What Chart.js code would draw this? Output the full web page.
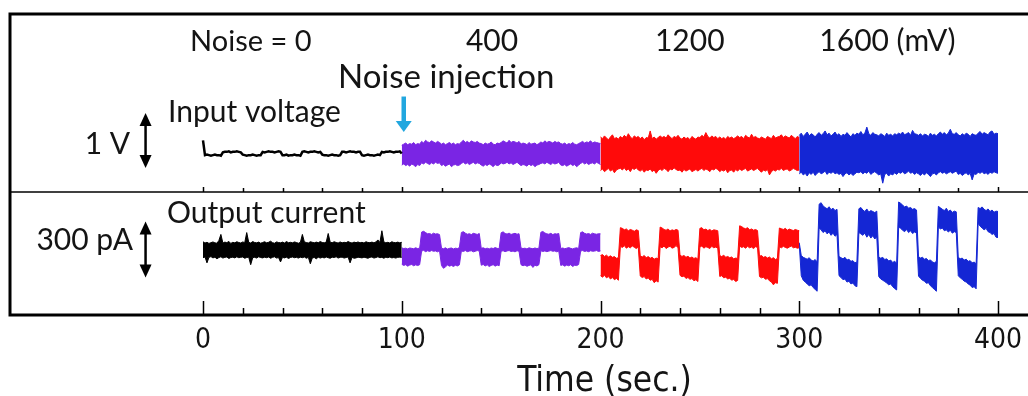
<!DOCTYPE html>
<html><head><meta charset="utf-8">
<script src="https://cdn.jsdelivr.net/npm/chart.js@4.4.1/dist/chart.umd.min.js"></script>
<style>
html,body{margin:0;padding:0;background:#fff;overflow:hidden;}
#wrap{position:relative;width:1028px;height:396px;overflow:hidden;background:#fff;}
#wrap canvas{position:absolute;left:0;top:0;}
</style></head><body>
<div id="wrap"><canvas id="c" width="1040" height="396"></canvas></div>
<script>
// ---------------- DATA ----------------
const xTickValues = [0, 100, 200, 300, 400];
const xMinorTickValues = [20, 40, 60, 80, 120, 140, 160, 180, 220, 240, 260, 280, 320, 340, 360, 380];
const segmentStartSec = [0, 100, 200, 300];
const noiseLabels = ['Noise = 0', '400', '1200', '1600 (mV)'];
const xAxisTitle = 'Time (sec.)';

// Input voltage (V, relative to baseline), 1-s samples
const inputBlack = [0.24,
 -0.03,-0.02,-0.03,-0.04,-0.03,-0.02,-0.03,-0.03,-0.04,
 0.02,0.03,0.03,0.04,0.02,0.03,0.03,0.04,0.03,0.02,
 -0.02,-0.03,-0.04,-0.03,-0.03,-0.02,-0.03,-0.04,-0.03,-0.03,
 0.03,0.02,0.03,0.04,0.03,0.03,0.02,0.03,0.04,0.03,
 -0.03,-0.03,-0.02,-0.04,-0.03,-0.03,-0.02,-0.03,-0.03,-0.04,
 0.03,0.04,0.03,0.02,0.03,0.03,0.04,0.03,0.02,0.03,
 -0.02,-0.03,-0.03,-0.04,-0.03,-0.02,-0.03,-0.03,-0.04,-0.03,
 0.03,0.03,0.02,0.03,0.04,0.03,0.03,0.02,0.03,0.03,
 -0.03,-0.04,-0.03,-0.02,-0.03,-0.03,-0.04,-0.03,-0.02,-0.03,
 0.03,0.02,0.03,0.03,0.04,0.03,0.02,0.03,0.03,0.04,
 0.00];
const inputPurpleUpper = [
 0.15,0.17,0.19,0.16,0.18,0.17,0.20,0.16,0.18,0.17,
 0.22,0.19,0.24,0.21,0.20,0.23,0.21,0.19,0.22,0.20,
 0.17,0.19,0.16,0.18,0.20,0.17,0.19,0.16,0.18,0.17,
 0.21,0.24,0.20,0.22,0.19,0.23,0.21,0.20,0.22,0.19,
 0.18,0.16,0.19,0.17,0.18,0.21,0.17,0.16,0.19,0.18,
 0.20,0.23,0.21,0.19,0.24,0.20,0.22,0.21,0.19,0.22,
 0.17,0.19,0.18,0.16,0.20,0.17,0.18,0.19,0.16,0.18,
 0.21,0.19,0.23,0.20,0.22,0.21,0.19,0.22,0.20,0.21,
 0.18,0.17,0.19,0.16,0.18,0.17,0.20,0.17,0.16,0.18,
 0.20,0.22,0.19,0.21,0.20,0.23,0.19,0.21,0.20,0.19,
 0.18];
const inputPurpleLower = [
 -0.21,-0.19,-0.22,-0.20,-0.23,-0.19,-0.21,-0.24,-0.20,-0.22,
 -0.17,-0.19,-0.16,-0.18,-0.20,-0.17,-0.19,-0.16,-0.18,-0.17,
 -0.22,-0.20,-0.23,-0.21,-0.19,-0.24,-0.21,-0.20,-0.22,-0.21,
 -0.18,-0.16,-0.19,-0.17,-0.20,-0.18,-0.16,-0.19,-0.17,-0.18,
 -0.21,-0.23,-0.20,-0.22,-0.19,-0.21,-0.24,-0.20,-0.22,-0.21,
 -0.17,-0.19,-0.18,-0.16,-0.19,-0.17,-0.20,-0.18,-0.16,-0.19,
 -0.22,-0.20,-0.21,-0.23,-0.19,-0.22,-0.20,-0.24,-0.21,-0.20,
 -0.18,-0.17,-0.19,-0.16,-0.18,-0.20,-0.17,-0.19,-0.18,-0.16,
 -0.21,-0.22,-0.20,-0.23,-0.21,-0.19,-0.22,-0.20,-0.24,-0.21,
 -0.18,-0.16,-0.19,-0.17,-0.20,-0.18,-0.17,-0.19,-0.16,-0.18,
 -0.20];
const inputRedUpper = [
 0.30,0.27,0.32,0.28,0.25,0.30,0.34,0.27,0.29,0.26,
 0.31,0.28,0.33,0.29,0.36,0.30,0.27,0.32,0.29,0.31,
 0.27,0.30,0.25,0.29,0.28,0.41,0.27,0.30,0.26,0.29,
 0.32,0.29,0.31,0.28,0.34,0.30,0.27,0.31,0.29,0.33,
 0.28,0.26,0.30,0.27,0.29,0.25,0.31,0.28,0.26,0.30,
 0.29,0.33,0.30,0.38,0.31,0.28,0.32,0.29,0.31,0.27,
 0.30,0.27,0.29,0.26,0.31,0.28,0.30,0.27,0.29,0.32,
 0.29,0.31,0.27,0.33,0.30,0.28,0.35,0.29,0.31,0.28,
 0.27,0.30,0.28,0.26,0.31,0.29,0.27,0.33,0.28,0.30,
 0.31,0.34,0.29,0.32,0.30,0.28,0.33,0.30,0.27,0.31,
 0.29];
const inputRedLower = [
 -0.31,-0.28,-0.33,-0.30,-0.27,-0.32,-0.29,-0.35,-0.30,-0.28,
 -0.27,-0.30,-0.26,-0.31,-0.28,-0.33,-0.27,-0.29,-0.26,-0.30,
 -0.32,-0.29,-0.34,-0.30,-0.31,-0.28,-0.33,-0.30,-0.36,-0.31,
 -0.28,-0.31,-0.27,-0.29,-0.33,-0.28,-0.30,-0.26,-0.29,-0.31,
 -0.30,-0.34,-0.29,-0.32,-0.30,-0.28,-0.33,-0.31,-0.29,-0.32,
 -0.29,-0.27,-0.31,-0.28,-0.30,-0.33,-0.28,-0.30,-0.27,-0.29,
 -0.33,-0.30,-0.32,-0.29,-0.35,-0.31,-0.30,-0.34,-0.29,-0.32,
 -0.28,-0.31,-0.29,-0.27,-0.32,-0.30,-0.28,-0.31,-0.29,-0.27,
 -0.31,-0.34,-0.30,-0.32,-0.29,-0.39,-0.33,-0.30,-0.32,-0.29,
 -0.30,-0.27,-0.31,-0.29,-0.28,-0.32,-0.30,-0.27,-0.29,-0.31,
 -0.30];
const inputBlueUpper = [
 0.33,0.37,0.31,0.35,0.39,0.32,0.36,0.34,0.30,0.35,
 0.38,0.33,0.36,0.41,0.34,0.37,0.32,0.35,0.39,0.33,
 0.36,0.31,0.35,0.33,0.38,0.34,0.30,0.36,0.33,0.37,
 0.35,0.40,0.34,0.37,0.48,0.36,0.33,0.38,0.35,0.34,
 0.32,0.36,0.34,0.31,0.37,0.33,0.35,0.32,0.36,0.34,
 0.37,0.35,0.39,0.34,0.36,0.38,0.33,0.42,0.36,0.35,
 0.33,0.36,0.32,0.35,0.34,0.31,0.37,0.33,0.35,0.32,
 0.36,0.39,0.35,0.38,0.34,0.37,0.44,0.36,0.35,0.38,
 0.34,0.32,0.36,0.33,0.37,0.35,0.31,0.36,0.34,0.33,
 0.37,0.40,0.35,0.38,0.36,0.34,0.39,0.41,0.35,0.37,
 0.36];
const inputBlueLower = [
 -0.37,-0.34,-0.39,-0.36,-0.41,-0.35,-0.38,-0.34,-0.40,-0.36,
 -0.33,-0.37,-0.35,-0.32,-0.38,-0.34,-0.36,-0.33,-0.37,-0.35,
 -0.38,-0.36,-0.42,-0.37,-0.35,-0.39,-0.36,-0.40,-0.37,-0.34,
 -0.35,-0.33,-0.37,-0.34,-0.36,-0.32,-0.38,-0.35,-0.33,-0.36,
 -0.39,-0.37,-0.54,-0.38,-0.36,-0.41,-0.37,-0.39,-0.35,-0.38,
 -0.34,-0.36,-0.33,-0.37,-0.35,-0.32,-0.36,-0.34,-0.38,-0.35,
 -0.37,-0.40,-0.36,-0.39,-0.35,-0.38,-0.42,-0.37,-0.36,-0.39,
 -0.35,-0.33,-0.36,-0.34,-0.37,-0.35,-0.33,-0.36,-0.34,-0.32,
 -0.38,-0.36,-0.40,-0.37,-0.35,-0.39,-0.36,-0.48,-0.37,-0.38,
 -0.34,-0.36,-0.33,-0.37,-0.35,-0.38,-0.34,-0.36,-0.33,-0.35,
 -0.36];

// Output current (pA, relative to baseline), 1-s samples
const outputBlackUpper = [
 45,38,42,36,40,44,39,37,52,85,
 38,43,40,47,36,42,39,45,41,38,
 44,40,95,42,38,46,41,39,43,37,
 41,45,39,42,48,40,37,44,41,39,
 43,38,46,40,42,39,44,41,37,42,
 85,44,41,38,45,42,39,43,40,46,
 41,39,43,90,42,40,45,41,38,44,
 39,42,40,46,41,38,43,40,44,39,
 42,38,45,41,40,43,39,44,55,41,
 105,44,39,42,38,45,41,40,43,39,
 42];
const outputBlackLower = [
 -42,-38,-70,-40,-36,-43,-39,-48,-41,-37,
 -44,-40,-38,-46,-41,-39,-43,-37,-42,-40,
 -38,-45,-41,-39,-80,-42,-40,-44,-37,-41,
 -43,-39,-42,-38,-45,-40,-37,-44,-41,-65,
 -40,-43,-39,-46,-41,-38,-42,-40,-44,-39,
 -42,-38,-45,-40,-75,-43,-41,-48,-39,-44,
 -40,-43,-38,-42,-45,-39,-41,-37,-44,-40,
 -39,-44,-41,-38,-70,-40,-45,-43,-39,-41,
 -43,-39,-42,-45,-40,-38,-44,-41,-37,-42,
 -40,-45,-39,-42,-38,-43,-41,-44,-40,-39,
 -40];
const outputPurpleUpper = [
 12,8,10,6,11,9,7,12,8,10,
 98,102,95,88,90,85,92,87,89,84,
 10,7,12,5,9,11,6,10,8,13,
 96,100,92,86,89,84,91,88,85,90,
 9,12,7,10,6,11,8,13,9,7,
 94,99,90,87,92,85,88,91,86,89,
 11,8,10,6,12,9,7,11,8,10,
 97,101,93,88,86,91,84,89,87,90,
 8,11,7,10,13,9,6,10,12,8,
 95,99,91,87,90,85,92,88,86,89,
 88];
const outputPurpleLower = [
 -78,-84,-80,-88,-82,-79,-86,-81,-85,-80,
 -6,-2,-9,-4,-8,-3,-7,-5,-10,-4,
 -85,-100,-92,-82,-88,-84,-90,-83,-87,-81,
 -5,-8,-3,-9,-6,-4,-10,-7,-3,-6,
 -83,-79,-87,-81,-90,-84,-80,-88,-82,-86,
 -7,-4,-9,-5,-3,-8,-6,-10,-4,-7,
 -80,-86,-82,-89,-84,-81,-95,-83,-87,-80,
 -4,-8,-5,-9,-6,-3,-7,-5,-10,-6,
 -84,-81,-88,-82,-86,-80,-90,-83,-85,-79,
 -6,-3,-8,-5,-9,-4,-7,-6,-3,-8,
 -5];
const outputRedUpper = [
 -30,-25,-35,-28,-38,-32,-40,-36,-45,-42,
 122,118,110,115,105,112,108,102,110,106,
 -32,-38,-30,-42,-36,-45,-40,-50,-44,-48,
 125,120,112,108,115,104,110,106,112,108,
 -28,-35,-30,-40,-34,-44,-38,-46,-42,-50,
 118,122,110,114,106,112,104,110,108,105,
 -30,-36,-28,-40,-35,-42,-38,-48,-44,-46,
 132,128,120,116,122,110,115,108,112,106,
 -34,-30,-40,-36,-44,-38,-48,-42,-52,-46,
 120,116,112,118,108,114,110,106,112,108,
 105];
const outputRedLower = [
 -140,-148,-138,-152,-145,-158,-150,-162,-155,-165,
 20,14,24,10,18,12,22,15,8,16,
 -142,-150,-145,-158,-152,-165,-160,-178,-168,-175,
 18,12,22,8,16,20,10,14,24,12,
 -138,-146,-142,-155,-150,-160,-156,-168,-162,-172,
 16,22,10,18,14,8,20,12,16,10,
 -144,-140,-152,-148,-158,-154,-165,-160,-172,-166,
 22,14,18,10,20,12,16,8,18,14,
 -145,-152,-148,-160,-156,-168,-175,-190,-178,-182,
 18,12,20,14,10,16,22,12,15,10,
 12];
const outputBlueUpper = [
 40,-30,-40,-45,-50,-42,-55,-60,-52,-65,
 250,258,240,232,225,236,220,228,215,222,
 -35,-42,-48,-40,-55,-50,-62,-58,-70,-65,
 225,232,218,210,224,206,215,210,204,212,
 -38,-45,-40,-52,-48,-60,-55,-68,-62,-72,
 262,255,245,235,240,228,232,222,226,218,
 -36,-44,-40,-50,-46,-58,-54,-65,-70,-62,
 238,230,222,215,228,210,218,205,212,208,
 -40,-48,-44,-55,-50,-62,-58,-70,-66,-75,
 232,226,235,222,215,224,210,218,206,212,
 210];
const outputBlueLower = [
 30,-140,-165,-175,-185,-195,-190,-205,-215,-225,
 120,110,95,105,88,98,80,92,75,85,
 -140,-150,-162,-158,-175,-170,-185,-180,-195,-200,
 95,88,80,92,70,85,65,78,60,72,
 -145,-158,-165,-172,-180,-190,-185,-200,-210,-218,
 125,118,108,100,112,95,105,90,98,92,
 -142,-155,-165,-170,-182,-178,-195,-205,-215,-225,
 125,115,120,105,110,98,108,92,100,95,
 -140,-152,-160,-170,-175,-185,-192,-205,-200,-212,
 145,130,120,110,118,100,95,85,90,70,
 68];

// ---------------- STYLE / LAYOUT ----------------
const colors = {black: '#000000', purple: '#7a25e4', red: '#ff0a0a', blue: '#1426d4', arrow: '#22a7df', text: '#141414'};
const labelFont = 'Lato, "Open Sans", sans-serif';
const axisFont = '"Liberation Sans Narrow", "DejaVu Sans Condensed", "Liberation Sans", sans-serif';
const xRange = {min: -97.107, max: 418.61};
const voltRange = {min: -2.9364, max: 2.5364};
const currentRange = {min: -354.5, max: 1287.3};
const dividerVolts = -0.7;
const axisTitle = {t: 202, offsetBelowAxis: 76, size: 35};

const annotations = [
  {text: noiseLabels[0], t: -6.5, y: 1.864, axis: 'yV', size: 29, align: 'left'},
  {text: noiseLabels[1], t: 132.3, y: 1.864, axis: 'yV', size: 30, align: 'left'},
  {text: noiseLabels[2], t: 227.4, y: 1.864, axis: 'yV', size: 30, align: 'left'},
  {text: noiseLabels[3], t: 310.1, y: 1.864, axis: 'yV', size: 30, align: 'left'},
  {text: 'Noise injection', t: 67.9, y: 1.191, axis: 'yV', size: 33, align: 'left'},
  {text: 'Input voltage', t: -17.6, y: 0.573, axis: 'yV', size: 30, align: 'left'},
  {text: '1 V', t: -36.7, y: -0.009, axis: 'yV', size: 30, align: 'right'},
  {text: 'Output current', t: -18.1, y: 147.3, axis: 'yI', size: 30, align: 'left'},
  {text: '300 pA', t: -35.2, y: 0, axis: 'yI', size: 30, align: 'right'}
];
const scaleArrows = [
  {t: -28.9, from: 0.736, to: -0.264, axis: 'yV'},
  {t: -28.9, from: 155, to: -150, axis: 'yI'}
];
const injectionArrow = {t: 101.0, from: 1.036, to: 0.391, axis: 'yV'};

// ---------------- BUILD ----------------
function pts(arr, start) { return arr.map((v, i) => ({x: start + i, y: v})); }
function band(upper, lower, start, color, axis) {
  return [
    {data: pts(upper, start), yAxisID: axis, borderColor: color, borderWidth: 1, fill: false, pointRadius: 0},
    {data: pts(lower, start), yAxisID: axis, borderColor: color, borderWidth: 1, backgroundColor: color, fill: '-1', pointRadius: 0}
  ];
}
const datasets = [
  {data: pts(inputBlack, segmentStartSec[0]), yAxisID: 'yV', borderColor: colors.black, borderWidth: 2.5, fill: false, pointRadius: 0},
  ...band(inputPurpleUpper, inputPurpleLower, segmentStartSec[1], colors.purple, 'yV'),
  ...band(inputRedUpper, inputRedLower, segmentStartSec[2], colors.red, 'yV'),
  ...band(inputBlueUpper, inputBlueLower, segmentStartSec[3], colors.blue, 'yV'),
  ...band(outputBlackUpper, outputBlackLower, segmentStartSec[0], colors.black, 'yI'),
  ...band(outputPurpleUpper, outputPurpleLower, segmentStartSec[1], colors.purple, 'yI'),
  ...band(outputRedUpper, outputRedLower, segmentStartSec[2], colors.red, 'yI'),
  ...band(outputBlueUpper, outputBlueLower, segmentStartSec[3], colors.blue, 'yI')
];

function line(ctx, x1, y1, x2, y2) { ctx.beginPath(); ctx.moveTo(x1, y1); ctx.lineTo(x2, y2); ctx.stroke(); }

const decorPlugin = {
  id: 'decor',
  afterDraw(chart) {
    const {ctx, chartArea: a, scales} = chart;
    const x = scales.x;
    ctx.save();
    ctx.strokeStyle = '#000';
    ctx.lineCap = 'butt';
    // frame
    ctx.lineWidth = 3;
    ctx.strokeRect(a.left, a.top, a.right - a.left, a.bottom - a.top);
    // panel divider
    const yDiv = scales.yV.getPixelForValue(dividerVolts);
    ctx.lineWidth = 1.5;
    line(ctx, a.left, yDiv, a.right, yDiv);
    // inward ticks
    ctx.lineWidth = 1.5;
    xTickValues.forEach(v => {
      const px = Math.round(x.getPixelForValue(v)) + 0.5;
      line(ctx, px, a.bottom, px, a.bottom - 14);
      line(ctx, px, yDiv, px, yDiv - 5);
    });
    xMinorTickValues.forEach(v => {
      const px = Math.round(x.getPixelForValue(v)) + 0.5;
      line(ctx, px, a.bottom, px, a.bottom - 7);
      line(ctx, px, yDiv, px, yDiv - 4);
    });
    // scale arrows (double headed)
    ctx.fillStyle = '#000';
    scaleArrows.forEach(ar => {
      const px = x.getPixelForValue(ar.t);
      const y1 = scales[ar.axis].getPixelForValue(ar.from);
      const y2 = scales[ar.axis].getPixelForValue(ar.to);
      const hl = 13, hw = 6;
      ctx.lineWidth = 2.5;
      line(ctx, px, y1 + hl - 1, px, y2 - hl + 1);
      ctx.beginPath(); ctx.moveTo(px, y1); ctx.lineTo(px - hw, y1 + hl); ctx.lineTo(px + hw, y1 + hl); ctx.closePath(); ctx.fill();
      ctx.beginPath(); ctx.moveTo(px, y2); ctx.lineTo(px - hw, y2 - hl); ctx.lineTo(px + hw, y2 - hl); ctx.closePath(); ctx.fill();
    });
    // injection arrow
    {
      const px = x.getPixelForValue(injectionArrow.t);
      const y1 = scales[injectionArrow.axis].getPixelForValue(injectionArrow.from);
      const y2 = scales[injectionArrow.axis].getPixelForValue(injectionArrow.to);
      const hl = 11, hw = 8;
      ctx.strokeStyle = colors.arrow; ctx.fillStyle = colors.arrow;
      ctx.lineWidth = 4.5;
      line(ctx, px, y1, px, y2 - hl + 1);
      ctx.beginPath(); ctx.moveTo(px, y2); ctx.lineTo(px - hw, y2 - hl); ctx.lineTo(px + hw, y2 - hl); ctx.closePath(); ctx.fill();
    }
    // text annotations
    ctx.fillStyle = colors.text;
    ctx.textBaseline = 'alphabetic';
    annotations.forEach(an => {
      ctx.font = an.size + 'px ' + labelFont;
      ctx.textAlign = an.align;
      ctx.fillText(an.text, x.getPixelForValue(an.t), scales[an.axis].getPixelForValue(an.y));
    });
    // x axis title (offset to the right as in the original figure)
    ctx.font = axisTitle.size + 'px ' + axisFont;
    ctx.textAlign = 'center';
    ctx.fillText(xAxisTitle, x.getPixelForValue(axisTitle.t), a.bottom + axisTitle.offsetBelowAxis);
    ctx.restore();
  }
};

new Chart(document.getElementById('c'), {
  type: 'line',
  data: {datasets},
  options: {
    responsive: false,
    animation: false,
    events: [],
    layout: {padding: {left: 10, right: 5, top: 14, bottom: 0}},
    plugins: {legend: {display: false}, tooltip: {enabled: false}, title: {display: false}},
    elements: {point: {radius: 0}, line: {tension: 0}},
    scales: {
      x: {
        type: 'linear', min: xRange.min, max: xRange.max,
        grid: {display: false, drawTicks: false},
        border: {display: false},
        afterBuildTicks: s => { s.ticks = xTickValues.map(v => ({value: v})); },
        afterFit: s => { s.height = 81; },
        ticks: {font: {family: axisFont, size: 28}, color: colors.text, padding: 9, autoSkip: false, maxRotation: 0},
        title: {display: false}
      },
      yV: {type: 'linear', position: 'left', display: false, min: voltRange.min, max: voltRange.max},
      yI: {type: 'linear', position: 'left', display: false, min: currentRange.min, max: currentRange.max}
    }
  },
  plugins: [decorPlugin]
});
</script>
</body></html>
